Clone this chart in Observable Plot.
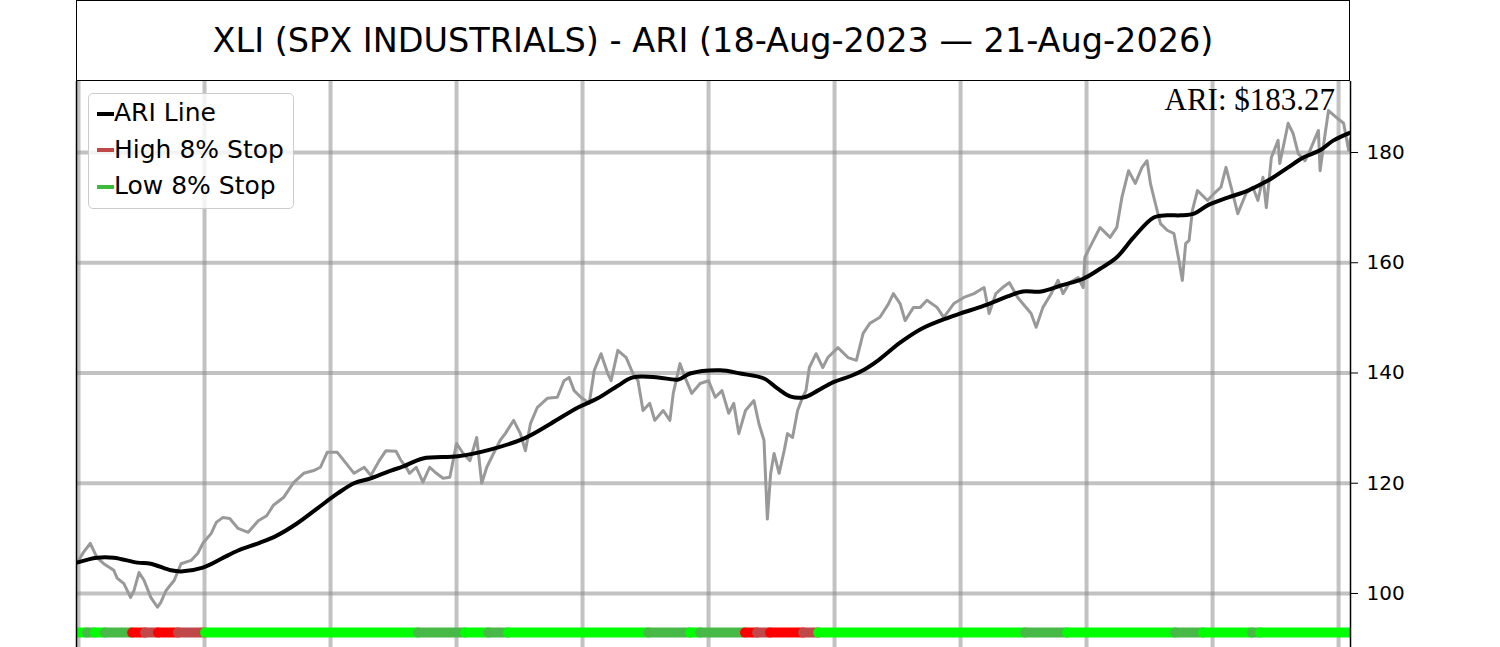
<!DOCTYPE html>
<html>
<head>
<meta charset="utf-8">
<script src="https://cdn.jsdelivr.net/npm/d3@7"></script>
<script src="https://cdn.jsdelivr.net/npm/@observablehq/plot@0.6"></script>
<style>
  html, body { margin: 0; padding: 0; background: #fff; width: 1500px; height: 647px; overflow: hidden; }
  #title { position: absolute; left: 76px; top: 0; width: 1272px; height: 79px; border: 1.5px solid #000;
           font-family: "DejaVu Sans", sans-serif; font-size: 33.5px; line-height: 80px; text-align: center; color: #000; background: #fff; }
  #chart { position: absolute; left: 0; top: 81px; }
  #legend { position: absolute; left: 88px; top: 93px; width: 206px; height: 116px; box-sizing: border-box;
            border: 1px solid #cccccc; border-radius: 5px; background: rgba(255,255,255,0.8);
            font-family: "DejaVu Sans", sans-serif; font-size: 25px; padding-top: 1px; }
  .row { height: 36.7px; line-height: 36.7px; white-space: nowrap; position: relative; padding-left: 25px; }
  .sw { position: absolute; left: 8px; top: 16.6px; width: 17px; height: 4px; }
  #ari { position: absolute; right: 165px; top: 84px; font-family: "Liberation Serif", "Times New Roman", serif;
         font-size: 31px; line-height: 31px; color: #000; }
</style>
</head>
<body>
<div id="title"></div>
<div id="chart"></div>
<div id="legend"></div>
<div id="ari"></div>
<script>
// ---- data ----
const titleText = "XLI (SPX INDUSTRIALS) - ARI (18-Aug-2023 \u2014 21-Aug-2026)";
const ariLast = 183.27;

// trading-session index and close price
const days = [-1,0,3,7,11,15,21,23,27,31,33,36,39,43,47,49,52,57,61,67,71,74,79,82,86,90,95,101,107,112,116,122,128,134,140,144,148,154,158,164,170,174,
  179,183,189,192,195,197,201,205,209,213,217,221,225,229,233,237,240,243,247,251,254,
  259,263,266,269,273,279,285,289,292,295,299,304,307,311,315,317,321,326,330,333,336,340,343,348,352,354,358,361,365,370,375,379,383,387,390,393,397,402,405,408,410,412,414,417,420,422,425,428,431,433,435,439,443,446,452,458,463,467,471,477,482,485,489,492,497,
  501,505,511,515,521,527,533,539,542,546,550,554,559,562,567,570,574,579,583,586,590,595,598,599,604,608,614,618,621,625,629,633,636,638,641,644,648,652,655,657,659,661,663,666,672,676,680,683,687,690,695,699,702,705,707,710,714,715,720,723,726,730,733,738,739,742,744,749,753,756,757];
const closes = [105.8,106.0,107.5,109.1,106.5,105.4,104.2,102.8,101.8,99.3,100.5,103.8,102.4,99.3,97.5,98.4,100.5,102.4,105.4,106.0,107.3,109.1,110.9,112.9,113.8,113.6,111.8,111.1,113.2,114.1,116.0,117.4,120.1,121.8,122.3,122.9,125.6,125.6,124.1,121.8,122.9,121.4,
  124.1,125.9,125.8,124.1,122.9,121.8,122.9,120.2,122.9,121.8,120.9,121.1,127.2,125.4,124.1,128.3,120.0,122.9,125.4,127.8,129.0,
  131.4,129.0,125.9,130.8,133.7,135.4,135.6,138.6,139.2,136.8,135.6,134.5,140.5,143.5,139.9,138.6,144.1,142.8,139.9,138.6,133.2,134.5,131.4,133.2,131.4,136.3,141.7,139.2,136.3,138.1,138.6,135.6,136.8,132.7,134.5,129.0,133.2,135.0,130.8,127.8,113.5,121.8,125.4,121.8,125.9,129.0,128.3,133.2,135.6,136.8,141.0,143.5,141.0,142.8,144.6,142.8,142.3,147.2,149.0,150.1,152.5,154.4,152.6,149.5,151.9,
  151.9,153.2,151.9,150.1,152.6,153.7,154.4,155.5,150.8,154.4,155.5,156.4,153.7,152.6,150.8,148.3,151.9,154.4,156.8,154.4,156.4,157.3,155.5,161.0,164.0,166.4,164.6,166.4,171.8,176.7,174.4,177.3,178.5,174.4,170.7,167.1,165.9,165.3,160.4,156.8,163.5,164.0,169.5,173.1,171.3,172.6,173.7,177.3,172.6,168.9,172.6,173.7,171.3,175.5,170.0,179.1,182.2,178.0,185.3,183.4,179.8,178.5,180.4,184.0,176.7,183.4,187.6,186.3,185.3,180.4,182.5];

// ARI line
const ariDays = [-1,11,21,35,43,55,61,74,85,95,107,118,130,142,154,164,174,186,193,205,226,245,265,281,297,309,321,330,345,357,364,382,394,408,416,424,432,440,449,460,467,476,489,501,513,525,539,553,562,573,585,598,608,618,628,640,648,656,664,672,684,696,708,720,729,739,747,757];
const ariValues = [105.6,106.5,106.5,105.6,105.4,104.2,104.0,104.7,106.3,107.8,109.1,110.5,112.7,115.4,118.1,120.0,120.9,122.3,123.0,124.5,124.9,126.1,128.1,130.8,133.7,135.4,137.7,139.2,139.2,138.8,139.9,140.5,139.9,139.0,137.2,135.7,135.6,136.8,138.3,139.5,140.5,142.3,145.5,147.9,149.5,150.8,152.2,153.9,154.8,154.8,155.9,157.1,158.9,161.0,164.6,168.2,168.6,168.6,168.9,170.4,171.8,173.1,174.9,177.3,179.1,180.4,182.2,183.6];

// stop-state strip (session ranges)
const segStart = [-1.2,5.4,10.1,16.1,32.2,39.9,47.6,59.5,75.6,202.4,230.4,244.1,256.0,339.3,364.3,370.3,397.0,404.2,411.9,431.6,440.5,563.7,588.7,653.0,669.7,698.8,703.6];
const segEnd   = [5.4,10.1,16.1,32.2,39.9,47.6,59.5,75.6,202.4,230.4,244.1,256.0,339.3,364.3,370.3,397.0,404.2,411.9,431.6,440.5,563.7,588.7,653.0,669.7,698.8,703.6,760];
const segState = ["low","lowHit","low","lowHit","high","highHit","high","highHit","low","lowHit","low","lowHit","low","lowHit","low","lowHit","high","highHit","high","highHit","low","lowHit","low","lowHit","low","lowHit","low"];
const stateColors = {low: "#00ff00", lowHit: "#46b946", high: "#ff0000", highHit: "#c04848"};
const stripLevel = 92.9;

const yTicks = [100, 120, 140, 160, 180];
const xGrid = [0, 75, 150, 225, 300, 375, 450, 525, 600, 675, 750];
const xDomain = [-1.2, 757.1];
const yDomain = [90.2, 192.88];

const legendItems = [
  {label: "ARI Line", color: "#000000"},
  {label: "High 8% Stop", color: "#c04848"},
  {label: "Low 8% Stop", color: "#3cbb3c"}
];

// ---- build ----
const n = Math.min(days.length, closes.length);
const price = days.slice(0, n).map((d, i) => ({d, v: closes[i]}));
const ari = ariDays.map((d, i) => ({d, v: ariValues[i]}));
const segs = segStart.map((s, i) => ({s, e: segEnd[i], state: segState[i]}));

document.getElementById("title").textContent = titleText;
document.getElementById("ari").textContent = "ARI: $" + ariLast.toFixed(2);

const plot = Plot.plot({
  width: 1500,
  height: 566,
  marginLeft: 76,
  marginRight: 150,
  marginTop: 0,
  marginBottom: 0,
  style: {fontFamily: "DejaVu Sans, sans-serif", fontSize: "20px", background: "transparent", overflow: "visible"},
  x: {domain: xDomain, axis: null},
  y: {domain: yDomain, axis: "right", ticks: yTicks, tickSize: 7, tickPadding: 9, label: null, tickFormat: d => String(d)},
  marks: [
    Plot.ruleX(xGrid, {stroke: "#8a8a8a", strokeOpacity: 0.52, strokeWidth: 4}),
    Plot.ruleY(yTicks, {stroke: "#8a8a8a", strokeOpacity: 0.52, strokeWidth: 4}),
    Plot.line(price, {x: "d", y: "v", stroke: "#999999", strokeWidth: 3, clip: true}),
    Plot.line(ari, {x: "d", y: "v", stroke: "#000000", strokeWidth: 4, curve: "catmull-rom", clip: true}),
    Plot.ruleY(segs, {y: () => stripLevel, x1: "s", x2: "e", stroke: d => stateColors[d.state], strokeWidth: 10, strokeLinecap: "round", clip: true}),
    Plot.ruleX([xDomain[0]], {stroke: "#000", strokeWidth: 1.5}),
    Plot.ruleX([xDomain[1]], {stroke: "#000", strokeWidth: 1.5})
  ]
});
document.getElementById("chart").appendChild(plot);

const leg = document.getElementById("legend");
for (const it of legendItems) {
  const row = document.createElement("div");
  row.className = "row";
  const sw = document.createElement("span");
  sw.className = "sw";
  sw.style.background = it.color;
  row.appendChild(sw);
  row.appendChild(document.createTextNode(it.label));
  leg.appendChild(row);
}
</script>
</body>
</html>
